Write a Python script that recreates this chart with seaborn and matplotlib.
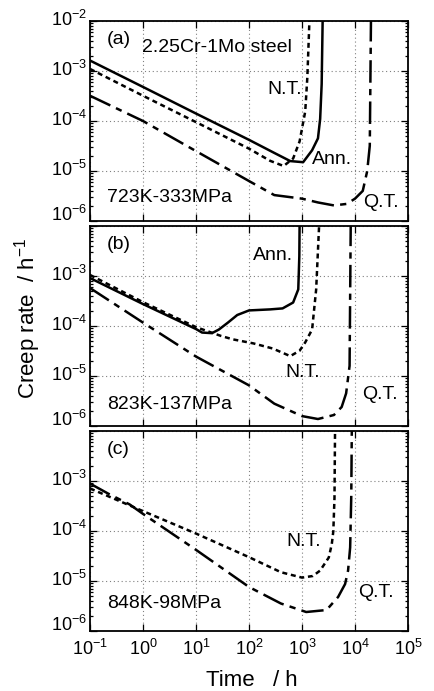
import matplotlib
matplotlib.use("Agg")
import matplotlib.pyplot as plt
import matplotlib.ticker as mticker
import matplotlib.transforms as mtransforms
import numpy as np
import pandas as pd
import seaborn as sns

# ---- creep-rate curves of 2.25Cr-1Mo steel (time in h, rate in 1/h) ----
# (a) 723K-333MPa
a_ann_t = [0.1, 1, 10, 100, 300, 600, 1050, 1550, 2000, 2200, 2350, 2450]
a_ann_r = [1.62e-3, 4.8e-4, 1.41e-4, 4.2e-5, 2.3e-5, 1.58e-5, 1.5e-5, 2.6e-5, 4.5e-5, 1.1e-4, 5.5e-4, 1e-2]
a_nt_t = [0.1, 1, 10, 100, 250, 450, 680, 900, 1150, 1260, 1380]
a_nt_r = [1.1e-3, 3.2e-4, 9.5e-5, 2.8e-5, 1.6e-5, 1.26e-5, 1.78e-5, 3.9e-5, 1.55e-4, 7.4e-4, 1e-2]
a_qt_t = [0.1, 1, 10, 100, 300, 1000, 2000, 4000, 7000, 10000, 14000, 17000, 19000, 20000]
a_qt_r = [3.2e-4, 1e-4, 2.5e-5, 6.3e-6, 3.3e-6, 2.8e-6, 2.35e-6, 2.05e-6, 2.2e-6, 2.8e-6, 4e-6, 1e-5, 3.2e-5, 1e-2]

# (b) 823K-137MPa
b_ann_t = [0.1, 1, 10, 13, 20, 27, 40, 60, 100, 250, 430, 680, 850, 890, 900]
b_ann_r = [9.1e-4, 2.75e-4, 8.7e-5, 7.4e-5, 7.2e-5, 8.5e-5, 1.17e-4, 1.66e-4, 2.05e-4, 2.15e-4, 2.25e-4, 2.95e-4, 5.4e-4, 2.5e-3, 1e-2]
b_nt_t = [0.1, 1, 10, 30, 50, 120, 280, 600, 900, 1150, 1550, 1850, 2100]
b_nt_r = [1.05e-3, 3e-4, 9.5e-5, 6.3e-5, 5.4e-5, 4.5e-5, 3.55e-5, 2.5e-5, 3.2e-5, 4.7e-5, 8.5e-5, 5.4e-4, 1e-2]
b_qt_t = [0.1, 1, 10, 100, 300, 1000, 2000, 4000, 5600, 6800, 7900, 8300]
b_qt_r = [5.75e-4, 1.17e-4, 2.45e-5, 6.5e-6, 2.8e-6, 1.58e-6, 1.38e-6, 1.66e-6, 2.4e-6, 4.5e-6, 1.6e-5, 1e-2]

# (c) 848K-98MPa
c_nt_t = [0.1, 1, 10, 100, 400, 1000, 1600, 2200, 3200, 3650, 3900, 4100, 4200]
c_nt_r = [7.1e-4, 2.5e-4, 8.9e-5, 3e-5, 1.5e-5, 1.17e-5, 1.26e-5, 1.62e-5, 2.95e-5, 5.5e-5, 1e-4, 4.6e-4, 1e-2]
c_qt_t = [0.1, 0.22, 0.56, 1, 10, 100, 400, 1200, 2900, 4800, 6500, 7400, 8100, 8500, 8700]
c_qt_r = [8.9e-4, 5.6e-4, 3.4e-4, 2.2e-4, 4.2e-5, 7.6e-6, 3.55e-6, 2.4e-6, 2.63e-6, 4.8e-6, 8.7e-6, 1.62e-5, 4.7e-5, 5e-4, 1e-2]

panel_tags = ["(a)", "(b)", "(c)"]
conditions = ["723K-333MPa", "823K-137MPa", "848K-98MPa"]
x_ticks = [1e-1, 1e0, 1e1, 1e2, 1e3, 1e4, 1e5]
y_ticks = [1e-6, 1e-5, 1e-4, 1e-3, 1e-2]

sns.set_theme(style="ticks")
plt.rcParams["font.family"] = ["Liberation Sans", "DejaVu Sans"]
plt.rcParams["mathtext.fontset"] = "custom"
plt.rcParams["mathtext.rm"] = "Liberation Sans"
plt.rcParams["mathtext.it"] = "Liberation Sans:italic"
plt.rcParams["mathtext.bf"] = "Liberation Sans:bold"
plt.rcParams["text.color"] = "black"
plt.rcParams["axes.labelcolor"] = "black"
plt.rcParams["xtick.color"] = "black"
plt.rcParams["ytick.color"] = "black"


def frame(series):
    parts = []
    for name, t, r in series:
        parts.append(pd.DataFrame({"time": t, "rate": r, "treatment": name}))
    return pd.concat(parts, ignore_index=True)


panels = [
    frame([("Ann.", a_ann_t, a_ann_r), ("N.T.", a_nt_t, a_nt_r), ("Q.T.", a_qt_t, a_qt_r)]),
    frame([("Ann.", b_ann_t, b_ann_r), ("N.T.", b_nt_t, b_nt_r), ("Q.T.", b_qt_t, b_qt_r)]),
    frame([("N.T.", c_nt_t, c_nt_r), ("Q.T.", c_qt_t, c_qt_r)]),
]

dash_map = {"Ann.": "", "N.T.": (2.0, 1.5), "Q.T.": (9.0, 2.5, 2.5, 2.5)}

fig, axes = plt.subplots(3, 1, figsize=(4.34, 6.91), dpi=100, sharex=True)
fig.subplots_adjust(left=0.2074, right=0.9401, top=0.9696, bottom=0.0868, hspace=0.025)

# curve labels per panel: (text, x_frac, y_frac)
curve_labels = [
    [("N.T.", 0.557, 0.66), ("Ann.", 0.698, 0.31), ("Q.T.", 0.858, 0.091)],
    [("Ann.", 0.513, 0.851), ("N.T.", 0.613, 0.269), ("Q.T.", 0.855, 0.159)],
    [("N.T.", 0.619, 0.45), ("Q.T.", 0.843, 0.193)],
]

# small upward nudges for the rate tick labels (bottom one a bit more)
lift_small = mtransforms.ScaledTranslation(0, 2.5 / 72, fig.dpi_scale_trans)
lift_big = mtransforms.ScaledTranslation(0, 5.5 / 72, fig.dpi_scale_trans)

for i, ax in enumerate(axes):
    df = panels[i]
    levels = list(dict.fromkeys(df["treatment"]))
    sns.lineplot(data=df, x="time", y="rate", style="treatment", style_order=levels,
                 dashes={k: dash_map[k] for k in levels}, color="black",
                 estimator=None, sort=False, legend=False, ax=ax, linewidth=1.8)
    ax.set_xscale("log")
    ax.set_yscale("log")
    ax.set_xlim(1e-1, 1e5)
    ax.set_ylim(1e-6, 1e-2)
    ax.set_xlabel("")
    ax.set_ylabel("")

    ax.set_xticks(x_ticks)
    ax.xaxis.set_minor_locator(mticker.LogLocator(base=10, subs=np.arange(2, 10)))
    ax.yaxis.set_minor_locator(mticker.LogLocator(base=10, subs=np.arange(2, 10)))
    ax.set_yticks(y_ticks)
    ylabels = [r"$10^{%d}$" % int(round(np.log10(v))) for v in y_ticks]
    if i > 0:
        ylabels[-1] = ""
    ax.set_yticklabels(ylabels)
    ax.xaxis.set_minor_formatter(mticker.NullFormatter())
    ax.yaxis.set_minor_formatter(mticker.NullFormatter())
    if i == 2:
        ax.set_xticklabels([r"$10^{%d}$" % int(round(np.log10(v))) for v in x_ticks])
    else:
        ax.tick_params(axis="x", labelbottom=False)

    ax.grid(True, which="major", linestyle=(0, (1, 2.5)), color="#808080", linewidth=0.8)
    ax.tick_params(which="both", direction="in", top=True, right=True, width=0.9,
                   labelsize=13, pad=2, colors="black")
    ax.tick_params(which="major", length=5)
    ax.tick_params(which="minor", length=2.5)
    ax.tick_params(axis="x", which="major", pad=6)
    for sp in ax.spines.values():
        sp.set_linewidth(1.3)
        sp.set_color("black")

    for k, lab in enumerate(ax.get_yticklabels()):
        lab.set_transform(lab.get_transform() + (lift_big if k == 0 else lift_small))

    ax.text(0.053, 0.91, panel_tags[i], transform=ax.transAxes, fontsize=14,
            ha="left", va="center")
    ax.text(0.053, [0.117, 0.109, 0.139][i], conditions[i], transform=ax.transAxes,
            fontsize=14, ha="left", va="center")
    for txt, xf, yf in curve_labels[i]:
        ax.text(xf, yf, txt, transform=ax.transAxes, fontsize=14, ha="left", va="center")

axes[0].text(0.1635, 0.868, "2.25Cr-1Mo steel", transform=axes[0].transAxes,
             fontsize=14, ha="left", va="center")

fig.text(252 / 434, 1 - 680 / 691, "Time   / h", fontsize=16, ha="center", va="center")
fig.text(28 / 434, 1 - 318 / 691, r"Creep rate  / h$^{-1}$", fontsize=16,
         ha="center", va="center", rotation=90)

fig.savefig("out.png", dpi=100)
